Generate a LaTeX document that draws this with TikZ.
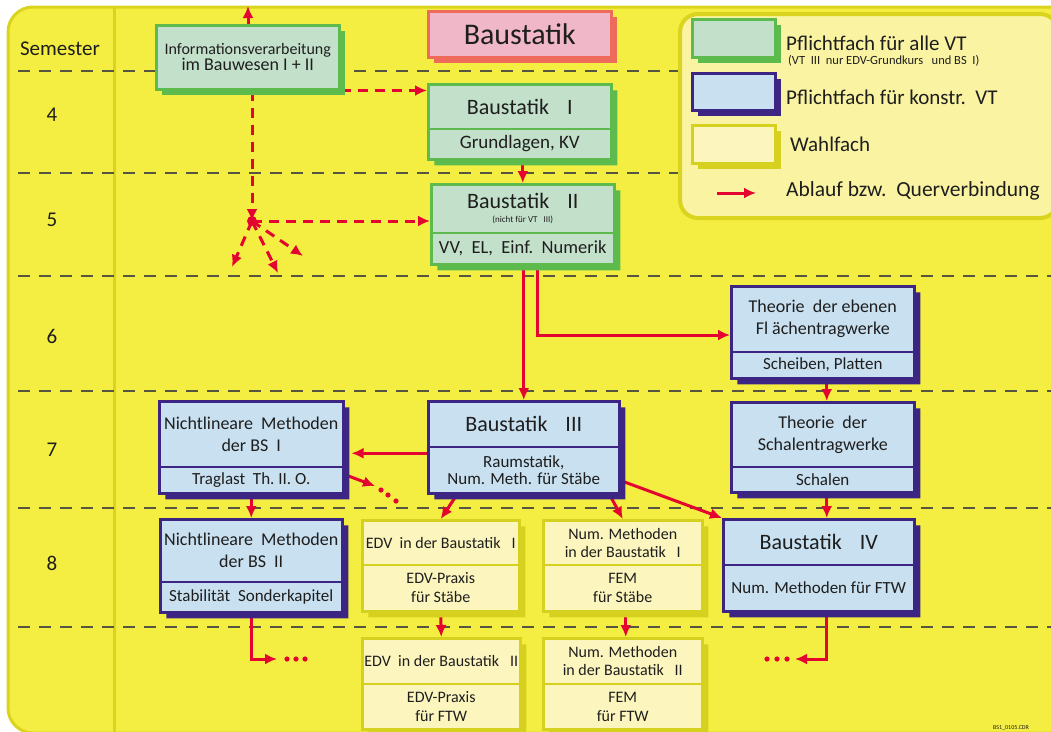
\documentclass[tikz,border=0pt]{standalone}
\usepackage{fontspec}
\setmainfont{Carlito}
\usetikzlibrary{shapes.multipart,shadows,arrows.meta}

\definecolor{paper}{RGB}{244,238,66}
\definecolor{rim}{RGB}{218,212,30}
\definecolor{legendbg}{RGB}{250,244,162}
\definecolor{gridline}{RGB}{85,85,65}
\definecolor{grnfill}{RGB}{195,224,202}
\definecolor{grnline}{RGB}{92,187,76}
\definecolor{blufill}{RGB}{200,224,240}
\definecolor{bluline}{RGB}{61,38,131}
\definecolor{ylwfill}{RGB}{252,246,190}
\definecolor{ylwline}{RGB}{214,208,30}
\definecolor{pnkfill}{RGB}{239,183,200}
\definecolor{pnkline}{RGB}{238,107,91}
\definecolor{flowred}{RGB}{227,5,47}
\definecolor{ink}{RGB}{30,30,30}

\pgfdeclarelayer{back}
\pgfdeclarelayer{links}
\pgfsetlayers{back,links,main}

\newcommand{\sz}[2]{\fontsize{#1}{#2}\selectfont}
\newcommand{\cell}[3]{\parbox[c][#2pt][c]{#1pt}{\centering #3}}

\tikzset{
  course/.style={rectangle split, rectangle split parts=2, inner sep=0pt,
    line width=2.5pt, text=ink, anchor=north west},
  pflicht/.style={draw=grnline, fill=grnfill,
    general shadow={shadow xshift=6pt, shadow yshift=-6pt, fill=grnline}},
  konstr/.style={draw=bluline, fill=blufill,
    general shadow={shadow xshift=6pt, shadow yshift=-6pt, fill=bluline}},
  wahl/.style={draw=ylwline, fill=ylwfill,
    general shadow={shadow xshift=6pt, shadow yshift=-6pt, fill=ylwline}},
  flow/.style={draw=flowred, line width=3pt, -{Latex[length=12pt,width=11pt]}},
  flowd/.style={flow, dash pattern=on 10pt off 7pt},
  semline/.style={draw=gridline, line width=1.3pt, dash pattern=on 12pt off 9pt},
}

\begin{document}
\begin{tikzpicture}[x=1pt,y=-1pt]
\useasboundingbox (0,0) rectangle (1051,731);

% sheet, semester column and semester borders
\begin{pgfonlayer}{back}
\path[fill=paper, draw=rim, line width=3pt, rounded corners=25pt] (8,7) rectangle (1075,733);
\draw[rim, line width=3pt] (114,7) -- (114,733);
\foreach \y in {71,173,276,391,508,627}
  \draw[semline] (18,\y) -- (1051,\y);
\end{pgfonlayer}

\node[text=ink] (semhead) at (60,49) {\sz{21}{24}Semester};
\foreach \n/\y in {4/115,5/220,6/336,7/450,8/563}
  \node[text=ink] (sem\n) at (52,\y) {\sz{21}{24}\n};

% title and legend
\node[draw=pnkline, fill=pnkfill, line width=2.5pt, inner sep=0pt,
  general shadow={shadow xshift=6pt, shadow yshift=-6pt, fill=pnkline},
  minimum width=183pt, minimum height=46pt, anchor=north west, text=ink]
  (title) at (427,10) {\sz{30}{34}Baustatik};

\node[draw=rim, fill=legendbg, line width=4pt, rounded corners=18pt,
  minimum width=378pt, minimum height=204pt, anchor=north west] (legend) at (678,12) {};
\node[pflicht, line width=2.5pt, minimum width=83pt, minimum height=38pt, anchor=north west] (keyg) at (691,18) {};
\node[konstr, line width=2.5pt, minimum width=83pt, minimum height=37pt, anchor=north west] (keyb) at (691,72) {};
\node[wahl, line width=2.5pt, minimum width=83pt, minimum height=38pt, anchor=north west] (keyy) at (691,124) {};
\node[anchor=west, text=ink, inner sep=0pt] (keygt) at (786,43) {\sz{21}{24}Pflichtfach für alle VT};
\node[anchor=west, text=ink, inner sep=0pt] (keygs) at (788,61) {\sz{12.5}{14}(VT\ \ III\ \ nur EDV-Grundkurs\ \ \ und BS\ \ I)};
\node[anchor=west, text=ink, inner sep=0pt] (keybt) at (786,97) {\sz{21}{24}Pflichtfach für konstr.\ \ VT};
\node[anchor=west, text=ink, inner sep=0pt] (keyyt) at (790,144) {\sz{21}{24}Wahlfach};
\node[anchor=west, text=ink, inner sep=0pt] (keyat) at (786,191) {\sz{21.5}{24}Ablauf bzw.\ \ Querverbindung};
\coordinate (keya) at (717,193);
\coordinate (keyz) at (756,193);
\draw[flow] (keya) -- (keyz);

% courses
\node[pflicht, line width=2.5pt, inner sep=0pt, align=center, text=ink,
  minimum width=183pt, minimum height=64pt, anchor=north west]
  (info) at (155,24) {\sz{16}{24}Informationsverarbeitung\\\sz{18}{24}im Bauwesen I + II};

\node[course,pflicht] (bs1) at (427,83)
  {\cell{183}{42}{\sz{22}{26}Baustatik\hspace{18pt}I}\nodepart{two}\cell{183}{28}{\sz{19}{22}Grundlagen, KV}};
\node[course,pflicht] (bs2) at (430,183)
  {\cell{183}{46}{\sz{22}{24}Baustatik\hspace{18pt}II\\[4pt]\sz{9}{10}(nicht für VT\hspace{6pt}III)}\nodepart{two}\cell{183}{29}{\sz{18.5}{22}VV,\ \ EL,\ \ Einf.\ \ Numerik}};

\node[course,konstr] (ebene) at (730,285)
  {\cell{183}{63}{\sz{18}{22}Theorie\ \ der ebenen\\Fl ächentragwerke}\nodepart{two}\cell{183}{24}{\sz{17}{20}Scheiben, Platten}};
\node[course,konstr] (schale) at (730,401)
  {\cell{183}{62}{\sz{18}{22}Theorie\ \ der\\Schalentragwerke}\nodepart{two}\cell{183}{23}{\sz{17}{20}Schalen}};

\node[course,konstr] (bs3) at (427,400)
  {\cell{191}{43}{\sz{22}{26}Baustatik\hspace{18pt}III}\nodepart{two}\cell{191}{44}{\sz{17}{17}Raumstatik,\\Num. Meth. für Stäbe}};
\node[course,konstr] (nl1) at (158,400)
  {\cell{184}{63}{\sz{18}{22}Nichtlineare\ \ Methoden\\der BS\ \ I}\nodepart{two}\cell{184}{24}{\sz{17}{20}Traglast\ \ Th.\ II.\ O.}};
\node[course,konstr] (nl2) at (159,518)
  {\cell{182}{60}{\sz{18}{22}Nichtlineare\ \ Methoden\\der BS\ \ II}\nodepart{two}\cell{182}{28}{\sz{17}{20}Stabilität\ \ Sonderkapitel}};
\node[course,konstr] (bs4) at (722,518)
  {\cell{191}{43}{\sz{22}{26}Baustatik\hspace{18pt}IV}\nodepart{two}\cell{191}{44}{\sz{17}{20}Num. Methoden für FTW}};

\node[course,wahl] (edv1) at (361,519)
  {\cell{157}{42}{\sz{16}{19}EDV\ \ in der Baustatik\ \ \ I}\nodepart{two}\cell{157}{44}{\sz{16}{19}EDV-Praxis\\für Stäbe}};
\node[course,wahl] (edv2) at (361,637)
  {\cell{158}{43}{\sz{16}{19}EDV\ \ in der Baustatik\ \ \ II}\nodepart{two}\cell{158}{43}{\sz{16}{19}EDV-Praxis\\für FTW}};
\node[course,wahl] (num1) at (542,519)
  {\cell{159}{42}{\sz{16}{18}Num. Methoden\\in der Baustatik\ \ \ I}\nodepart{two}\cell{159}{44}{\sz{16}{19}FEM\\für Stäbe}};
\node[course,wahl] (num2) at (542,637)
  {\cell{159}{43}{\sz{16}{18}Num. Methoden\\in der Baustatik\ \ \ II}\nodepart{two}\cell{159}{43}{\sz{16}{19}FEM\\für FTW}};

% connections
\coordinate (up) at (248,6);
\coordinate (hub) at (252,221);
\coordinate (o1) at (232,267);
\coordinate (o2) at (278,273);
\coordinate (o3) at (303,256);
\coordinate (k1) at (537,335);
\coordinate (t1) at (375,486);
\coordinate (e1) at (277,659);
\coordinate (e2) at (795,659);

\begin{pgfonlayer}{links}
\draw[flowd] (info.north -| up) -- (up);
\draw[flowd] (info.south east) -- (bs1.north west |- info.south east);
\draw[flowd] (info.south -| hub) -- (hub);
\draw[flowd] (hub) -- (bs2.west |- hub);
\foreach \o in {o1,o2,o3}
  \draw[flowd] (hub) -- (\o);
\fill[flowred] (hub) circle (5pt);

\draw[flow] (bs2.north |- bs1.south) -- (bs2.north);
\draw[flow] (bs3.north |- bs2.south) -- (bs3.north);
\draw[flow] (k1 |- bs2.south) -- (k1) -- (ebene.west |- k1);
\draw[flow] ([xshift=4pt]ebene.south) -- ([xshift=4pt]schale.north);
\draw[flow] ([xshift=4pt]schale.south) -- ([xshift=4pt]schale.south |- bs4.north);
\draw[flow] ([yshift=-6pt]bs3.west) -- ([xshift=7pt,yshift=-6pt]nl1.east);
\draw[flow] ([yshift=20pt]nl1.south east) -- (t1);
\draw[flow] (nl1.south) -- (nl2.north);
\draw[flow] (nl2.south) |- (e1);
\draw[flow] ([xshift=30pt]bs3.south west) -- (edv1.north);
\draw[flow] ([xshift=-11pt]bs3.south east) -- (num1.north);
\draw[flow] ([yshift=14pt]bs3.south east) -- (bs4.north west);
\draw[flow] (edv1.south) -- (edv2.north);
\draw[flow] ([xshift=3pt]num1.south) -- ([xshift=3pt]num2.north);
\draw[flow] ([xshift=8pt]bs4.south) |- (e2);
\end{pgfonlayer}

% open ends
\foreach \p in {(381,490),(388,495),(396,501),(287,659),(296,659),(305,659),(767,659),(777,659),(787,659)}
  \fill[flowred] \p circle (2.6pt);

\node[text=ink, inner sep=0pt] (fileid) at (1011,728) {\sz{6}{7}BS1\_0105.CDR};
\end{tikzpicture}
\end{document}
